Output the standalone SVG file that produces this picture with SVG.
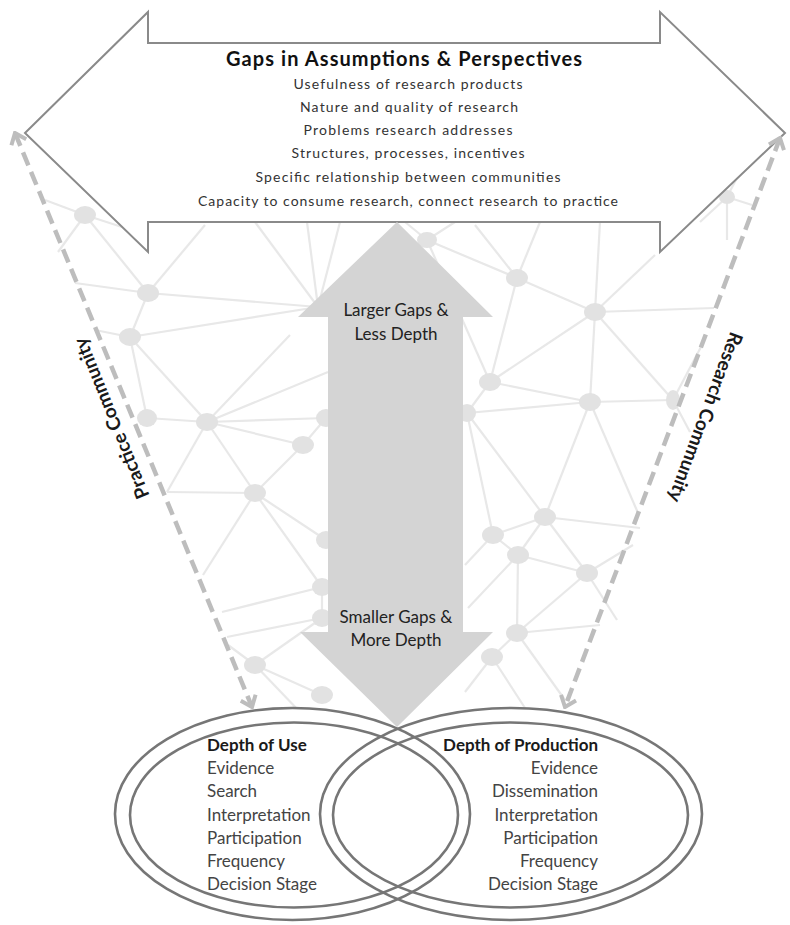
<svg xmlns="http://www.w3.org/2000/svg" width="790" height="925" viewBox="0 0 790 925">
<defs>
<style>
.net line{stroke:#e8e8e8;stroke-width:2.2}
.net ellipse{fill:#e2e2e2}
.list{font-family:Lato,"Liberation Sans",sans-serif;font-size:14px;fill:#333;text-anchor:middle}
.ttl{font-family:Lato,"Liberation Sans",sans-serif;font-size:20px;font-weight:bold;fill:#111;text-anchor:middle}
.lab{font-family:Lato,"Liberation Sans",sans-serif;font-size:17px;fill:#222;text-anchor:middle}
.el{font-family:Lato,"Liberation Sans",sans-serif;font-size:17px;fill:#444}
.elb{font-weight:bold;fill:#1a1a1a}
.com{font-family:Lato,"Liberation Sans",sans-serif;font-size:19px;font-weight:bold;fill:#1a1a1a;text-anchor:middle}
.dash{fill:none;stroke:#bdbdbd;stroke-width:4.5;stroke-dasharray:14 7}
.ring{fill:none;stroke:#767676;stroke-width:2.6}
</style>
<marker id="chev" viewBox="-12 -10 14 20" markerWidth="14" markerHeight="20" markerUnits="userSpaceOnUse" refX="0" refY="0" orient="auto-start-reverse">
<path d="M-10,-8 L0,0 L-10,8" fill="none" stroke="#bdbdbd" stroke-width="4"/>
</marker>
</defs>
<rect width="790" height="925" fill="#fff"/>
<g id="network" class="net">
<line x1="85" y1="215" x2="148" y2="293"/>
<line x1="85" y1="215" x2="45" y2="200"/>
<line x1="85" y1="215" x2="125" y2="228"/>
<line x1="85" y1="215" x2="58" y2="252"/>
<line x1="148" y1="293" x2="130" y2="337"/>
<line x1="148" y1="293" x2="318" y2="307"/>
<line x1="148" y1="293" x2="205" y2="225"/>
<line x1="148" y1="293" x2="75" y2="283"/>
<line x1="130" y1="337" x2="318" y2="307"/>
<line x1="130" y1="337" x2="147" y2="418"/>
<line x1="130" y1="337" x2="207" y2="422"/>
<line x1="130" y1="337" x2="95" y2="330"/>
<line x1="147" y1="418" x2="207" y2="422"/>
<line x1="207" y1="422" x2="303" y2="445"/>
<line x1="207" y1="422" x2="255" y2="493"/>
<line x1="207" y1="422" x2="326" y2="418"/>
<line x1="207" y1="422" x2="167" y2="492"/>
<line x1="207" y1="422" x2="328" y2="372"/>
<line x1="207" y1="422" x2="290" y2="335"/>
<line x1="303" y1="445" x2="255" y2="493"/>
<line x1="303" y1="445" x2="326" y2="418"/>
<line x1="255" y1="493" x2="167" y2="492"/>
<line x1="255" y1="493" x2="326" y2="540"/>
<line x1="255" y1="493" x2="322" y2="587"/>
<line x1="255" y1="493" x2="203" y2="575"/>
<line x1="322" y1="587" x2="222" y2="612"/>
<line x1="322" y1="618" x2="227" y2="637"/>
<line x1="322" y1="587" x2="322" y2="618"/>
<line x1="255" y1="665" x2="322" y2="618"/>
<line x1="255" y1="665" x2="322" y2="695"/>
<line x1="255" y1="665" x2="228" y2="645"/>
<line x1="255" y1="665" x2="300" y2="712"/>
<line x1="318" y1="307" x2="307" y2="222"/>
<line x1="318" y1="307" x2="340" y2="222"/>
<line x1="318" y1="307" x2="255" y2="222"/>
<line x1="427" y1="240" x2="517" y2="278"/>
<line x1="427" y1="240" x2="405" y2="222"/>
<line x1="427" y1="240" x2="455" y2="222"/>
<line x1="427" y1="240" x2="490" y2="382"/>
<line x1="517" y1="278" x2="595" y2="312"/>
<line x1="517" y1="278" x2="490" y2="382"/>
<line x1="517" y1="278" x2="540" y2="222"/>
<line x1="517" y1="278" x2="475" y2="225"/>
<line x1="595" y1="312" x2="590" y2="402"/>
<line x1="595" y1="312" x2="490" y2="382"/>
<line x1="595" y1="312" x2="600" y2="222"/>
<line x1="595" y1="312" x2="714" y2="308"/>
<line x1="595" y1="312" x2="673" y2="400"/>
<line x1="595" y1="312" x2="655" y2="255"/>
<line x1="490" y1="382" x2="590" y2="402"/>
<line x1="490" y1="382" x2="467" y2="413"/>
<line x1="590" y1="402" x2="673" y2="400"/>
<line x1="590" y1="402" x2="545" y2="517"/>
<line x1="590" y1="402" x2="638" y2="513"/>
<line x1="590" y1="402" x2="467" y2="413"/>
<line x1="467" y1="413" x2="545" y2="517"/>
<line x1="467" y1="413" x2="493" y2="535"/>
<line x1="727" y1="197" x2="700" y2="222"/>
<line x1="727" y1="197" x2="752" y2="205"/>
<line x1="727" y1="197" x2="727" y2="240"/>
<line x1="727" y1="197" x2="740" y2="172"/>
<line x1="545" y1="517" x2="493" y2="535"/>
<line x1="545" y1="517" x2="518" y2="555"/>
<line x1="545" y1="517" x2="587" y2="573"/>
<line x1="545" y1="517" x2="640" y2="528"/>
<line x1="493" y1="535" x2="518" y2="555"/>
<line x1="493" y1="535" x2="465" y2="565"/>
<line x1="518" y1="555" x2="587" y2="573"/>
<line x1="518" y1="555" x2="517" y2="633"/>
<line x1="518" y1="555" x2="468" y2="608"/>
<line x1="587" y1="573" x2="517" y2="633"/>
<line x1="587" y1="573" x2="633" y2="545"/>
<line x1="587" y1="573" x2="617" y2="620"/>
<line x1="517" y1="633" x2="492" y2="657"/>
<line x1="517" y1="633" x2="600" y2="625"/>
<line x1="517" y1="633" x2="565" y2="700"/>
<line x1="492" y1="657" x2="465" y2="692"/>
<line x1="492" y1="657" x2="525" y2="708"/>
<line x1="673" y1="400" x2="702" y2="345"/>
<line x1="673" y1="400" x2="690" y2="432"/>
<ellipse cx="85" cy="215" rx="11" ry="9"/>
<ellipse cx="148" cy="293" rx="11" ry="9"/>
<ellipse cx="130" cy="337" rx="11" ry="9"/>
<ellipse cx="147" cy="418" rx="10" ry="9"/>
<ellipse cx="207" cy="422" rx="11" ry="9"/>
<ellipse cx="303" cy="445" rx="11" ry="9"/>
<ellipse cx="255" cy="493" rx="11" ry="9"/>
<ellipse cx="326" cy="540" rx="10" ry="9"/>
<ellipse cx="322" cy="587" rx="10" ry="9"/>
<ellipse cx="322" cy="618" rx="10" ry="9"/>
<ellipse cx="255" cy="665" rx="11" ry="9"/>
<ellipse cx="322" cy="695" rx="11" ry="9"/>
<ellipse cx="326" cy="418" rx="10" ry="9"/>
<ellipse cx="427" cy="240" rx="10" ry="8"/>
<ellipse cx="517" cy="278" rx="11" ry="9"/>
<ellipse cx="595" cy="312" rx="11" ry="9"/>
<ellipse cx="490" cy="382" rx="11" ry="9"/>
<ellipse cx="590" cy="402" rx="11" ry="9"/>
<ellipse cx="467" cy="413" rx="9" ry="9"/>
<ellipse cx="673" cy="400" rx="7" ry="10"/>
<ellipse cx="727" cy="197" rx="8" ry="7"/>
<ellipse cx="545" cy="517" rx="11" ry="9"/>
<ellipse cx="493" cy="535" rx="11" ry="9"/>
<ellipse cx="518" cy="555" rx="11" ry="9"/>
<ellipse cx="587" cy="573" rx="11" ry="9"/>
<ellipse cx="517" cy="633" rx="11" ry="9"/>
<ellipse cx="492" cy="657" rx="11" ry="9"/>
</g>
<g id="gaps-arrow">
<polygon points="25,133 148,12 148,43 660,43 660,12 785,133 660,252 660,222 148,222 148,252" fill="#fff" stroke="#8a8a8a" stroke-width="2"/>
<text class="ttl" x="404" y="66" textLength="356">Gaps in Assumptions &amp; Perspectives</text>
<text class="list" x="408" y="89" textLength="229">Usefulness of research products</text>
<text class="list" x="409" y="112" textLength="218">Nature and quality of research</text>
<text class="list" x="408" y="135" textLength="209">Problems research addresses</text>
<text class="list" x="408" y="158" textLength="233">Structures, processes, incentives</text>
<text class="list" x="408" y="182" textLength="305">Specific relationship between communities</text>
<text class="list" x="408" y="206" textLength="420">Capacity to consume research, connect research to practice</text>
</g>
<g id="depth-arrow">
<polygon points="397,222 493,317 463,317 463,632 493,632 397,727 300,632 328,632 328,317 298,317" fill="#d4d4d4"/>
<text class="lab" x="396" y="316">Larger Gaps &amp;</text>
<text class="lab" x="396" y="340">Less Depth</text>
<text class="lab" x="396" y="623">Smaller Gaps &amp;</text>
<text class="lab" x="396" y="646">More Depth</text>
</g>
<g id="connectors">
<line class="dash" x1="15" y1="133" x2="252" y2="707" marker-start="url(#chev)" marker-end="url(#chev)"/>
<line class="dash" x1="780" y1="138" x2="565" y2="707" marker-start="url(#chev)" marker-end="url(#chev)"/>
</g>
<g id="practice-community">
<text class="com" transform="translate(112,418) rotate(-112)" y="6">Practice Community</text>
</g>
<g id="research-community">
<text class="com" transform="translate(705,417) rotate(110.5)" y="6">Research Community</text>
</g>
<g id="venn">
<ellipse cx="292.5" cy="814" rx="177.5" ry="106" fill="#fff"/>
<ellipse cx="511" cy="814" rx="191" ry="106" fill="#fff"/>
<ellipse class="ring" cx="292.5" cy="814" rx="177.5" ry="106"/>
<ellipse class="ring" cx="294" cy="815" rx="164" ry="92.5"/>
<ellipse class="ring" cx="511" cy="814" rx="191" ry="106"/>
<ellipse class="ring" cx="510.5" cy="815" rx="177.5" ry="92.5"/>
</g>
<g id="depth-of-use">
<text class="el elb" x="207" y="751">Depth of Use</text>
<text class="el" x="207" y="774">Evidence</text>
<text class="el" x="207" y="797">Search</text>
<text class="el" x="207" y="821">Interpretation</text>
<text class="el" x="207" y="844">Participation</text>
<text class="el" x="207" y="867">Frequency</text>
<text class="el" x="207" y="890">Decision Stage</text>
</g>
<g id="depth-of-production">
<text class="el elb" x="598" y="751" text-anchor="end">Depth of Production</text>
<text class="el" x="598" y="774" text-anchor="end">Evidence</text>
<text class="el" x="598" y="797" text-anchor="end">Dissemination</text>
<text class="el" x="598" y="821" text-anchor="end">Interpretation</text>
<text class="el" x="598" y="844" text-anchor="end">Participation</text>
<text class="el" x="598" y="867" text-anchor="end">Frequency</text>
<text class="el" x="598" y="890" text-anchor="end">Decision Stage</text>
</g>
</svg>
